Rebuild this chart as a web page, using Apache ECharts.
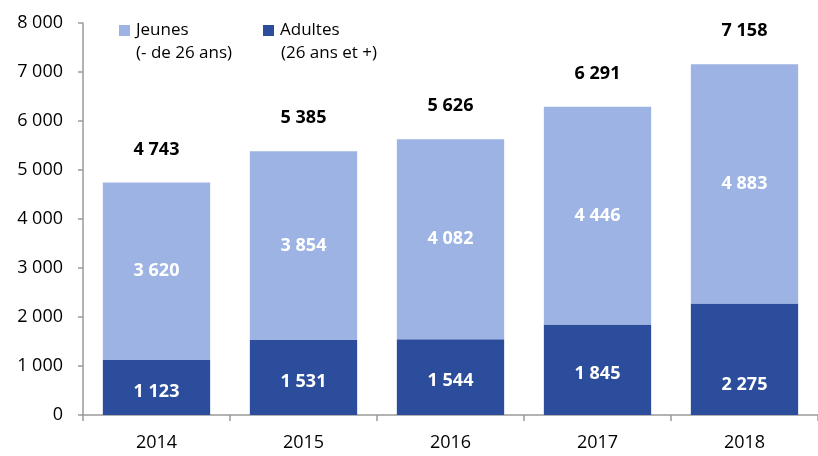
<!DOCTYPE html>
<html>
<head>
<meta charset="utf-8">
<script src="https://cdn.jsdelivr.net/npm/echarts@6/dist/echarts.min.js"></script>
<style>
  html, body { margin: 0; padding: 0; background: #fff; }
  #chart { width: 818px; height: 456px; }
</style>
</head>
<body>
<div id="chart"></div>
<script>
const years = ['2014', '2015', '2016', '2017', '2018']
const adultes = [1123, 1531, 1544, 1845, 2275]
const jeunes = [3620, 3854, 4082, 4446, 4883]
const totals = [4743, 5385, 5626, 6291, 7158]
const legendSub = ['(- de 26 ans)', '(26 ans et +)']

const fmt = v => String(v).replace(/\B(?=(\d{3})+(?!\d))/g, ' ')
const FONT = 'Open Sans'

const chart = echarts.init(document.getElementById('chart'))

const legendBase = {
  top: 22,
  padding: 0,
  itemWidth: 11,
  itemHeight: 11,
  itemGap: 6,
  icon: 'rect',
  textStyle: { fontFamily: FONT, fontSize: 17, color: '#000', padding: [0, 0, 0, 1] }
}

chart.setOption({
  animation: false,
  textStyle: { fontFamily: FONT },
  legend: [
    Object.assign({ data: ['Jeunes'], left: 119 }, legendBase),
    Object.assign({ data: ['Adultes'], left: 263 }, legendBase)
  ],
  graphic: [
    { type: 'text', left: 136, top: 45, style: { text: legendSub[0], font: '17px "Open Sans"', fill: '#000' } },
    { type: 'text', left: 281, top: 45, style: { text: legendSub[1], font: '17px "Open Sans"', fill: '#000' } }
  ],
  grid: { left: 83, right: -12, top: 23, bottom: 41, containLabel: false },
  xAxis: {
    type: 'category',
    data: years,
    axisLine: { lineStyle: { color: '#9a9a9a', width: 1.5 } },
    axisTick: { show: true, length: 6, lineStyle: { color: '#9a9a9a', width: 1.5 } },
    axisLabel: { color: '#000', fontSize: 18, margin: 19, fontFamily: FONT }
  },
  yAxis: {
    type: 'value',
    min: 0,
    max: 8000,
    interval: 1000,
    axisLine: { show: true, lineStyle: { color: '#9a9a9a', width: 1.5 } },
    axisTick: { show: true, length: 5, lineStyle: { color: '#9a9a9a', width: 1.5 } },
    splitLine: { show: false },
    axisLabel: { color: '#000', fontSize: 18, margin: 20, fontFamily: FONT, formatter: fmt }
  },
  series: [{
    name: 'Adultes',
    type: 'bar',
    stack: 'total',
    barWidth: '73%',
    itemStyle: { color: '#2b4d9c' },
    label: {
      show: true,
      position: 'inside',
      offset: [0, 4],
      color: '#fff',
      fontWeight: 'bold',
      fontSize: 18,
      formatter: p => fmt(p.value)
    },
    data: adultes.map((v, i) => i === 4 ? { value: v, label: { offset: [0, 26] } } : v)
  }, {
    name: 'Jeunes',
    type: 'bar',
    stack: 'total',
    itemStyle: { color: '#9db3e3' },
    label: {
      show: true,
      position: 'inside',
      color: '#fff',
      fontWeight: 'bold',
      fontSize: 18,
      formatter: p => fmt(p.value)
    },
    data: jeunes
  }, {
    name: 'Total',
    type: 'bar',
    stack: 'total',
    itemStyle: { color: 'transparent' },
    label: {
      show: true,
      position: 'top',
      distance: 24,
      color: '#000',
      fontWeight: 'bold',
      fontSize: 18,
      formatter: p => fmt(totals[p.dataIndex])
    },
    data: totals.map(() => 0)
  }]
})
</script>
</body>
</html>
